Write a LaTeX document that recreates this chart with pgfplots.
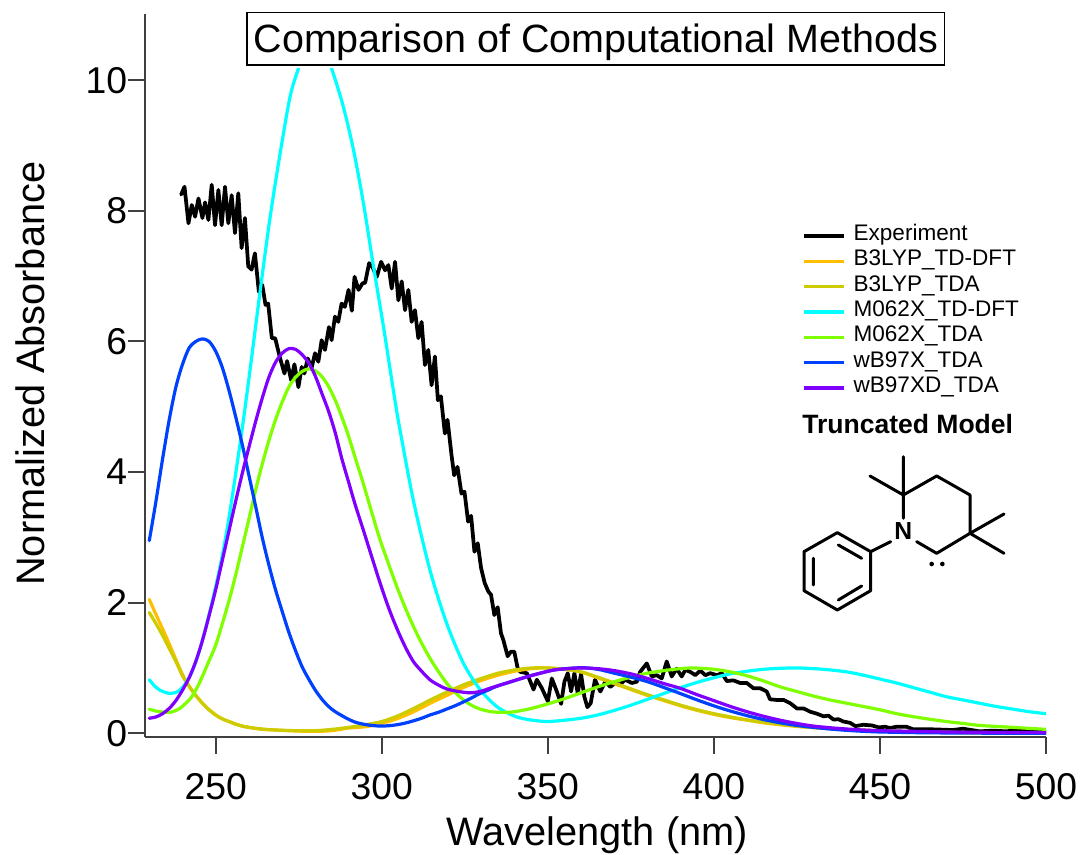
\documentclass[border=0pt]{standalone}
\usepackage{fontspec}
\setmainfont{Liberation Sans}
\usepackage{pgfplots}
\pgfplotsset{compat=1.18}
\definecolor{cExp}{RGB}{0,0,0}
\definecolor{cBT}{RGB}{255,190,0}
\definecolor{cBA}{RGB}{204,204,0}
\definecolor{cMT}{RGB}{0,255,255}
\definecolor{cMA}{RGB}{128,255,0}
\definecolor{cWX}{RGB}{0,64,255}
\definecolor{cWD}{RGB}{128,0,255}
\begin{document}
\begin{tikzpicture}[x=1pt,y=1pt]
\path[use as bounding box] (0,0) rectangle (810.75pt,641.25pt);
\begin{axis}[
  at={(108.375pt,88.5pt)},anchor=south west,
  scale only axis,width=676.125pt,height=542.25pt,
  xmin=228.56,xmax=500,ymin=-0.057,ymax=11.015,
  axis x line=bottom,axis y line=left,
  axis line style={-,line width=1.5pt,color=black!75},
  tick style={line width=1.5pt,color=black!75},
  xtick={250,300,350,400,450,500},ytick={0,2,4,6,8,10},
  minor tick num=0,
  tick align=outside,major tick length=12.5pt,
  /pgf/number format/assume math mode=true,
  tick label style={font=\fontsize{28pt}{28pt}\selectfont},
  x tick label style={yshift=-11pt},
  y tick label style={xshift=3pt},
  xlabel={Wavelength (nm)},ylabel={Normalized Absorbance},
  label style={font=\fontsize{29.8pt}{29.8pt}\selectfont},
  xlabel style={at={(rel axis cs:0.5,0)},anchor=center,yshift=-74pt,xshift=1.5pt},
  ylabel style={at={(rel axis cs:0,0.5025)},anchor=center,yshift=86pt},
  title={Comparison of Computational Methods},
  title style={at={(rel axis cs:0.5006,0.9658)},anchor=center,yshift=-6pt,
    font=\fontsize{29.6pt}{29.6pt}\selectfont,
    draw=black,fill=white,line width=1.2pt,minimum width=523pt,minimum height=39.5pt,inner sep=0pt,
    text height=26pt,text depth=6pt,
    preaction={draw=white,line width=4.5pt}},
  legend style={draw=none,fill=none,at={(rel axis cs:0.7300,0.7105)},anchor=north west,
    inner sep=0pt,outer sep=0pt,
    font=\fontsize{16.9pt}{16.9pt}\selectfont,
    /tikz/every odd column/.style={column sep=6pt},
    row sep=0pt,nodes={inner sep=0pt,anchor=west,text height=13pt,text depth=6pt}},
  legend cell align=left,
  legend image code/.code={\draw[#1,line cap=butt] (0pt,0pt) -- (29.5pt,0pt);},
  every axis plot/.append style={line width=2.4pt,line join=round,line cap=round,no marks},
]
\addplot[cExp,line width=2.8pt] coordinates {
(239.6,8.25)(240.6,8.37)(241.8,7.81)(242.8,8.09)(243.8,7.91)(244.8,8.19)(246.0,7.89)(246.8,8.13)(247.8,7.86)(248.8,8.40)
(249.8,7.78)(250.8,8.32)(251.8,7.78)(252.8,8.37)(253.8,7.81)(254.8,8.24)(255.8,7.66)(256.8,8.27)(257.8,7.43)(258.8,7.89)
(259.8,7.15)(260.8,7.10)(261.8,7.35)(263.0,6.76)(264,6.87)(265,6.56)(265.8,6.58)(266.9,6.05)(267.9,6.05)(269.4,5.74)
(270.7,5.51)(271.5,5.70)(272.7,5.41)(273.7,5.65)(274.9,5.30)(275.9,5.61)(276.7,5.51)(277.7,5.74)(278.9,5.60)(279.9,5.82)
(280.9,5.69)(281.9,6.02)(282.9,5.87)(284.1,6.22)(284.9,6.02)(285.9,6.38)(286.9,6.30)(287.9,6.58)(288.9,6.53)(290,6.79)
(291,6.47)(291.8,6.99)(293,6.79)(294.2,6.89)(295,6.90)(296.2,7.20)(297.2,7.14)(298.5,6.99)(299.8,7.22)(301,7.09)
(302,7.17)(303,6.81)(304,7.22)(305,6.63)(306,6.92)(307,6.48)(308,6.79)(309,6.30)(310,6.48)(311,6.05)
(312,6.30)(313,5.64)(314,5.87)(315,5.33)(316,5.77)(316.9,5.10)(317.8,5.16)(319,4.59)(319.8,4.80)(321,4.26)
(321.8,3.95)(322.8,4.08)(324,3.67)(324.9,3.70)(326,3.24)(326.9,3.33)(327.9,2.78)(328.9,2.91)(329.9,2.53)(331,2.30)
(332.1,2.17)(332.9,2.12)(333.9,1.81)(334.9,1.93)(335.9,1.53)(336.6,1.43)(337.9,1.18)(338.9,1.25)(339.9,1.25)(340.9,1.00)
(341.7,.94)(343.7,.92)(345.7,.67)(346.7,.82)(348.2,.69)(350,.49)(351.2,.84)(352.7,.64)(354,.45)(355,.79)
(356,.92)(357,.64)(358,.92)(359,.61)(360,.91)(361,.56)(361.9,.40)(362.9,.46)(364.2,.82)(365.8,.64)
(367.3,.79)(368.8,.71)(370.3,.77)(371.6,.74)(373.3,.82)(375.3,.77)(376.8,.79)(377.8,.94)(379.8,1.07)(381.3,.87)
(382.8,.89)(384.3,.84)(385.8,1.10)(387.3,.87)(388.8,.99)(390.3,.87)(391.4,.97)(392.9,.94)(394.4,.89)(395.9,.96)
(397.4,.89)(398.9,.92)(400.9,.89)(402.4,.92)(403.9,.80)(405.9,.81)(407.9,.77)(409.9,.77)(411.9,.69)(413.9,.69)
(415.9,.64)(416.9,.52)(419,.51)(421,.51)(423,.46)(425,.38)(427,.38)(429,.33)(431,.30)(433,.26)
(434.5,.27)(436,.21)(437.5,.215)(439,.18)(441,.16)(442.6,.11)(445,.13)(447.6,.12)(449.6,.09)(451.6,.10)
(453,.08)(455,.10)(458,.10)(460,.06)(466,.06)(472,.05)(475,.07)(480,.03)(484,.04)(488,.03)(492,.05)(496,.04)(500,.03)};
\addlegendentry{Experiment}
\addplot[cBT,smooth,tension=0.5] coordinates {
(230,2.05)(232,1.82)(234,1.60)(236,1.37)(238,1.13)(240,.90)(242,.72)(244,.58)(246,.46)(248,.36)(250,.28)(252,.22)(254,.18)(256,.14)(258,.11)(260,.09)(264,.06)(268,.05)(274,.035)(280,.03)(285,.04)(290,.08)(295,.10)(300,.15)(305,.23)(310,.34)(315,.47)(320,.59)(325,.71)(330,.81)(335,.89)(340,.95)(345,.99)(350,1.0)(355,.98)(360,.94)(365,.85)(370,.76)(375,.67)(380,.58)(385,.50)(390,.42)(395,.35)(400,.29)(405,.24)(410,.20)(415,.16)(420,.13)(425,.105)(430,.085)(435,.07)(440,.055)(445,.045)(450,.035)(460,.02)(470,.012)(480,.006)(490,.003)(500,.002)};
\addlegendentry{B3LYP\_TD-DFT}
\addplot[cBA,smooth,tension=0.5] coordinates {
(230,1.85)(232,1.68)(234,1.50)(236,1.30)(238,1.10)(240,.88)(242,.72)(244,.58)(246,.46)(248,.36)(250,.28)(252,.22)(254,.18)(256,.14)(258,.11)(260,.09)(264,.065)(268,.05)(274,.04)(280,.04)(285,.06)(290,.09)(295,.13)(300,.18)(305,.27)(310,.39)(315,.52)(320,.64)(325,.75)(330,.84)(335,.92)(340,.97)(345,1.0)(350,1.0)(355,.98)(360,.94)(365,.86)(370,.77)(375,.68)(380,.59)(385,.51)(390,.43)(395,.36)(400,.30)(405,.25)(410,.205)(415,.17)(420,.14)(425,.11)(430,.09)(435,.075)(440,.06)(445,.05)(450,.04)(460,.025)(470,.015)(480,.008)(490,.004)(500,.002)};
\addlegendentry{B3LYP\_TDA}
\addplot[cMT,smooth,tension=0.5] coordinates {
(230,.82)(231.5,.73)(233.2,.66)(236.2,.61)(239.2,.66)(242.3,.88)(245.3,1.30)(248.3,1.88)(251.3,2.55)(254,3.30)(257.8,4.60)(260.3,5.55)(263.3,6.74)(266.4,7.91)(269.4,8.88)(272.4,9.75)(274.9,10.18)(277,10.48)(280,10.65)(282,10.55)(284.9,10.18)(288.4,9.60)(291.5,8.93)(294.5,8.11)(297.5,7.15)(300.5,6.23)(303.5,5.25)(305.3,4.70)(309.5,3.57)(314.5,2.50)(319.5,1.69)(324.6,1.07)(329.6,.67)(334.6,.41)(339.6,.27)(344,.21)(349.7,.18)(355,.20)(360,.23)(365,.28)(370,.35)(375,.43)(380,.52)(385,.61)(390,.70)(395,.78)(400,.85)(405,.91)(410,.95)(415,.98)(420,.995)(425,1.0)(430,.99)(435,.97)(440,.94)(445,.89)(450,.83)(455,.77)(460,.70)(465,.63)(470,.56)(475,.51)(480,.46)(485,.41)(490,.37)(495,.33)(500,.30)};
\addlegendentry{M062X\_TD-DFT}
\addplot[cMA,smooth,tension=0.5] coordinates {
(230,.37)(232,.34)(235.3,.32)(237,.33)(239.2,.38)(241,.46)(242.8,.56)(245,.76)(248,1.11)(250,1.35)(252,1.68)(254,2.03)(256,2.42)(258,2.85)(260,3.28)(262,3.72)(264,4.12)(266,4.48)(268,4.80)(270,5.07)(272,5.30)(274,5.45)(276,5.54)(278,5.58)(280,5.55)(282,5.46)(284,5.31)(286,5.10)(288,4.84)(290,4.55)(292,4.22)(294.4,3.83)(297,3.38)(299.5,2.96)(302,2.60)(304.5,2.25)(307,1.93)(309.5,1.64)(312,1.38)(314.5,1.15)(317,.95)(319.5,.77)(322,.63)(324.6,.51)(327,.43)(329.6,.37)(333,.33)(336.6,.32)(340,.33)(345,.38)(350,.45)(355,.53)(360,.62)(365,.71)(370,.79)(375,.86)(380,.92)(385,.96)(390,.99)(394,1.0)(400,.98)(405,.94)(410,.88)(415,.80)(420,.71)(425,.64)(430,.57)(435,.51)(440,.46)(445,.41)(450,.36)(455,.30)(460,.255)(465,.215)(470,.18)(475,.15)(480,.12)(485,.105)(490,.09)(495,.075)(500,.06)};
\addlegendentry{M062X\_TDA}
\addplot[cWX,smooth,tension=0.5] coordinates {
(230,2.95)(232,3.55)(234,4.20)(236,4.80)(238,5.30)(240,5.65)(242,5.90)(244,6.00)(246,6.04)(248,6.00)(250,5.85)(252,5.60)(254,5.25)(256,4.85)(258,4.42)(260,3.95)(262,3.48)(264,3.00)(266,2.58)(268,2.20)(270,1.87)(272,1.55)(274,1.27)(276,1.02)(278,.83)(280,.66)(282,.52)(284,.41)(286,.33)(289.4,.23)(292,.17)(294.4,.14)(297,.12)(299.5,.11)(302,.115)(304.5,.13)(307,.155)(309.5,.19)(312,.23)(314.5,.28)(317,.32)(319.5,.37)(322,.42)(324.6,.48)(327,.54)(329.6,.61)(332,.66)(334.6,.72)(339.6,.80)(344,.87)(347.7,.92)(352,.97)(358,1.0)(362,1.0)(366,.97)(370,.92)(375,.86)(380,.79)(385,.70)(389.8,.61)(395,.51)(400,.42)(405,.34)(410,.27)(415,.21)(420,.16)(425,.12)(430,.09)(435,.065)(440,.045)(445,.03)(450,.02)(460,.01)(470,.005)(480,.002)(500,0)};
\addlegendentry{wB97X\_TDA}
\addplot[cWD,smooth,tension=0.5] coordinates {
(230,.23)(232,.25)(234,.30)(236,.38)(238,.50)(240,.66)(242,.85)(244,1.10)(246,1.42)(248,1.80)(250,2.20)(252,2.65)(254,3.10)(256,3.55)(258,3.98)(260,4.38)(262,4.77)(264,5.13)(266,5.45)(268,5.68)(270,5.82)(272,5.89)(274,5.88)(276,5.80)(278,5.67)(280,5.47)(282,5.20)(284,4.93)(286,4.60)(288,4.20)(290,3.85)(292,3.50)(294.4,3.12)(297,2.70)(299.5,2.30)(302,1.93)(304.5,1.61)(307,1.33)(309.5,1.10)(312,.95)(314.5,.82)(317,.74)(319.5,.68)(323,.64)(326.6,.62)(329.6,.64)(332.6,.69)(337,.76)(342,.84)(347.7,.92)(352,.97)(356,.99)(360,1.0)(365,.99)(370,.96)(375,.91)(380,.84)(385,.76)(389.8,.69)(395,.59)(400,.50)(405,.41)(410,.33)(415,.26)(420,.20)(425,.15)(430,.11)(435,.085)(440,.065)(445,.05)(450,.04)(460,.03)(470,.02)(480,.015)(490,.012)(500,.01)};
\addlegendentry{wB97XD\_TDA}
\end{axis}
\node[anchor=west,inner sep=0pt,font=\bfseries\fontsize{19.9pt}{19.9pt}\selectfont] at (601.5pt,323.5pt) {Truncated Model};
\begin{scope}[shift={(585pt,483.75pt)},x=0.25pt,y=-0.25pt,line width=2.25pt,line cap=round,line join=round]
\draw (172,968)--(272,1025)--(272,1142)--(172,1200)--(72,1142)--(72,1025)--cycle;
\draw (175,1005)--(245,1045) (100,1045)--(100,1125) (175,1170)--(245,1128);
\draw (272,1025)--(332,995);
\draw (370,925)--(370,855)--(470,798)--(570,855)--(570,970)--(470,1030)--(410,995);
\draw (370,855)--(370,740) (370,855)--(270,798);
\draw (570,970)--(672,912) (570,970)--(672,1030);
\node[font=\bfseries\fontsize{18.5pt}{18.5pt}\selectfont,inner sep=0pt] at (370,962) {N};
\fill (455,1062) circle (7) (487,1062) circle (7);
\end{scope}
\end{tikzpicture}
\end{document}
